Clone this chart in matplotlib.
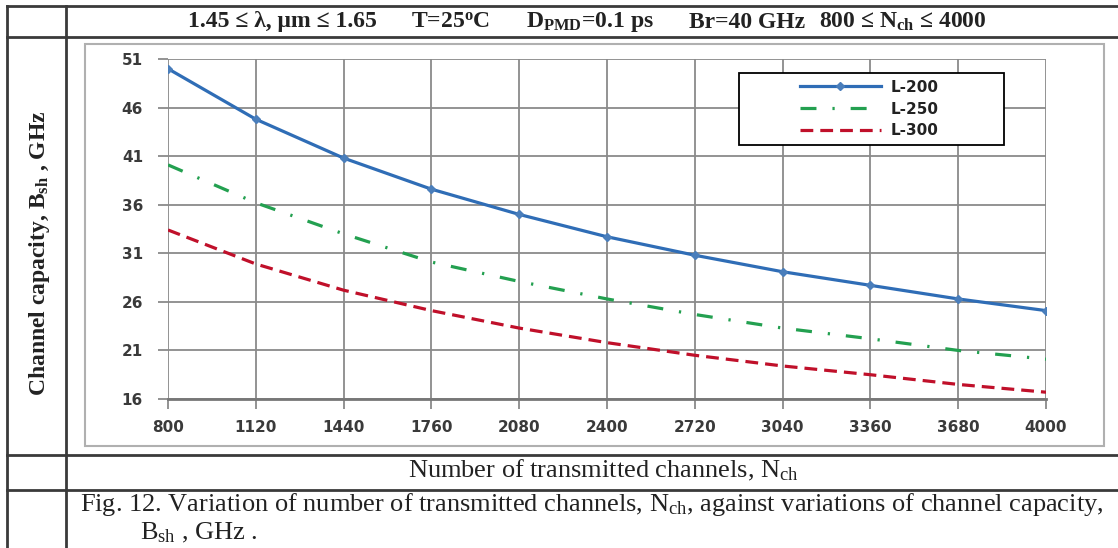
import matplotlib
matplotlib.use("Agg")
import matplotlib.pyplot as plt
from matplotlib.lines import Line2D
from matplotlib.patches import Rectangle

# data
channels = [800, 1120, 1440, 1760, 2080, 2400, 2720, 3040, 3360, 3680, 4000]
l200 = [50.0, 44.8, 40.8, 37.6, 35.0, 32.7, 30.8, 29.1, 27.7, 26.3, 25.1]
l250 = [40.1, 36.2, 33.0, 30.1, 28.1, 26.3, 24.7, 23.3, 22.2, 21.0, 20.1]
l300 = [33.4, 29.9, 27.2, 25.1, 23.3, 21.8, 20.5, 19.4, 18.5, 17.5, 16.7]
y_ticks = [16, 21, 26, 31, 36, 41, 46, 51]
labels = ["L-200", "L-250", "L-300"]

plt.rcParams["mathtext.fontset"] = "custom"
plt.rcParams["mathtext.rm"] = "Liberation Serif"
plt.rcParams["mathtext.it"] = "Liberation Serif"
plt.rcParams["mathtext.bf"] = "Liberation Serif:bold"

W, H = 1118, 548
fig = plt.figure(figsize=(W / 100, H / 100), dpi=100)


def fx(x):
    return x / W


def fy(y):
    return 1 - y / H


# table lines
tc = "#3a3a3a"
for y in [6, 37, 455, 490]:
    fig.add_artist(Line2D([fx(7), 1], [fy(y), fy(y)], color=tc, lw=2))
for x in [7, 66]:
    fig.add_artist(Line2D([fx(x), fx(x)], [fy(6), 0], color=tc, lw=2))

# inner chart frame
fig.add_artist(Rectangle((fx(85), fy(446)), fx(1104) - fx(85), fy(44) - fy(446),
                         fill=False, edgecolor="#b0b0b0", lw=1.5))

ax = fig.add_axes([fx(168), fy(399), fx(1046) - fx(168), fy(59) - fy(399)])
ax.plot(channels, l200, color="#2f6db6", lw=2.3, marker="D", ms=4.5,
        mfc="#4a7ebb", mec="#4a7ebb", label=labels[0], zorder=4)
ax.plot(channels, l250, color="#23a050", lw=2.3, ls=(0, (5, 5, 0.7, 5)),
        label=labels[1], zorder=4)
ax.plot(channels, l300, color="#c0102a", lw=2.3, ls=(0, (4, 2.2)),
        label=labels[2], zorder=4)

ax.set_xlim(800, 4000)
ax.set_ylim(16, 51)
ax.set_xticks(channels)
ax.set_yticks(y_ticks)
ax.grid(True, color="#8a8a8a", lw=1.3)
ax.set_axisbelow(True)
for s in ["top", "right", "left"]:
    ax.spines[s].set_visible(False)
ax.spines["bottom"].set_color("#777777")
ax.spines["bottom"].set_linewidth(2)
ax.tick_params(axis="both", length=7, width=1.3, color="#8a8a8a",
               labelsize=11, labelcolor="#3a3a3a")
ax.tick_params(axis="y", pad=11)
ax.tick_params(axis="x", pad=8)
for t in ax.get_xticklabels() + ax.get_yticklabels():
    t.set_fontweight("bold")

# legend box
ax.add_patch(Rectangle((0.650, 0.747), 0.302, 0.212, transform=ax.transAxes,
                       facecolor="white", edgecolor="black", lw=1.3, zorder=5))
leg = fig.legend(loc="center left", bbox_to_anchor=(fx(800), fy(109)), frameon=False,
                 fontsize=11, handlelength=5.3, handletextpad=0.6, labelspacing=0.45,
                 borderpad=0, borderaxespad=0, labelcolor="#222222")
for t in leg.get_texts():
    t.set_fontweight("bold")

# title row
tkw = dict(fontsize=17, fontweight="bold", family="Liberation Serif",
           va="center", ha="center", color="#222222")
fig.text(fx(282), fy(22), "1.45 ≤ λ, μm ≤ 1.65", **tkw)
fig.text(fx(451), fy(22), r"T=25$^{\mathbf{o}}$C", **tkw)
fig.text(fx(590), fy(22), r"D$_{\mathbf{PMD}}$=0.1 ps", **tkw)
fig.text(fx(747), fy(22), "Br=40 GHz", **tkw)
fig.text(fx(903), fy(22), r"800 ≤ N$_{\mathbf{ch}}$ ≤ 4000", **tkw)

# axis labels and caption
fig.text(fx(40), fy(253), r"Channel capacity, B$_{\mathbf{sh}}$ , GHz", rotation=90,
         fontsize=17, fontweight="bold", family="Liberation Serif",
         va="center", ha="center", color="#222222")
fig.text(fx(603), fy(470), r"Number of transmitted channels, N$_{\mathrm{ch}}$",
         fontsize=19, family="Liberation Serif", va="center", ha="center",
         color="#222222")
fig.text(fx(80), fy(505), r"Fig. 12. Variation of number of transmitted channels, N$_{\mathrm{ch}}$, "
         r"against variations of channel capacity,",
         fontsize=19, family="Liberation Serif", va="center", ha="left",
         color="#222222")
fig.text(fx(140), fy(533), r"B$_{\mathrm{sh}}$ , GHz .",
         fontsize=19, family="Liberation Serif", va="center", ha="left",
         color="#222222")

fig.savefig("out.png", dpi=100)
